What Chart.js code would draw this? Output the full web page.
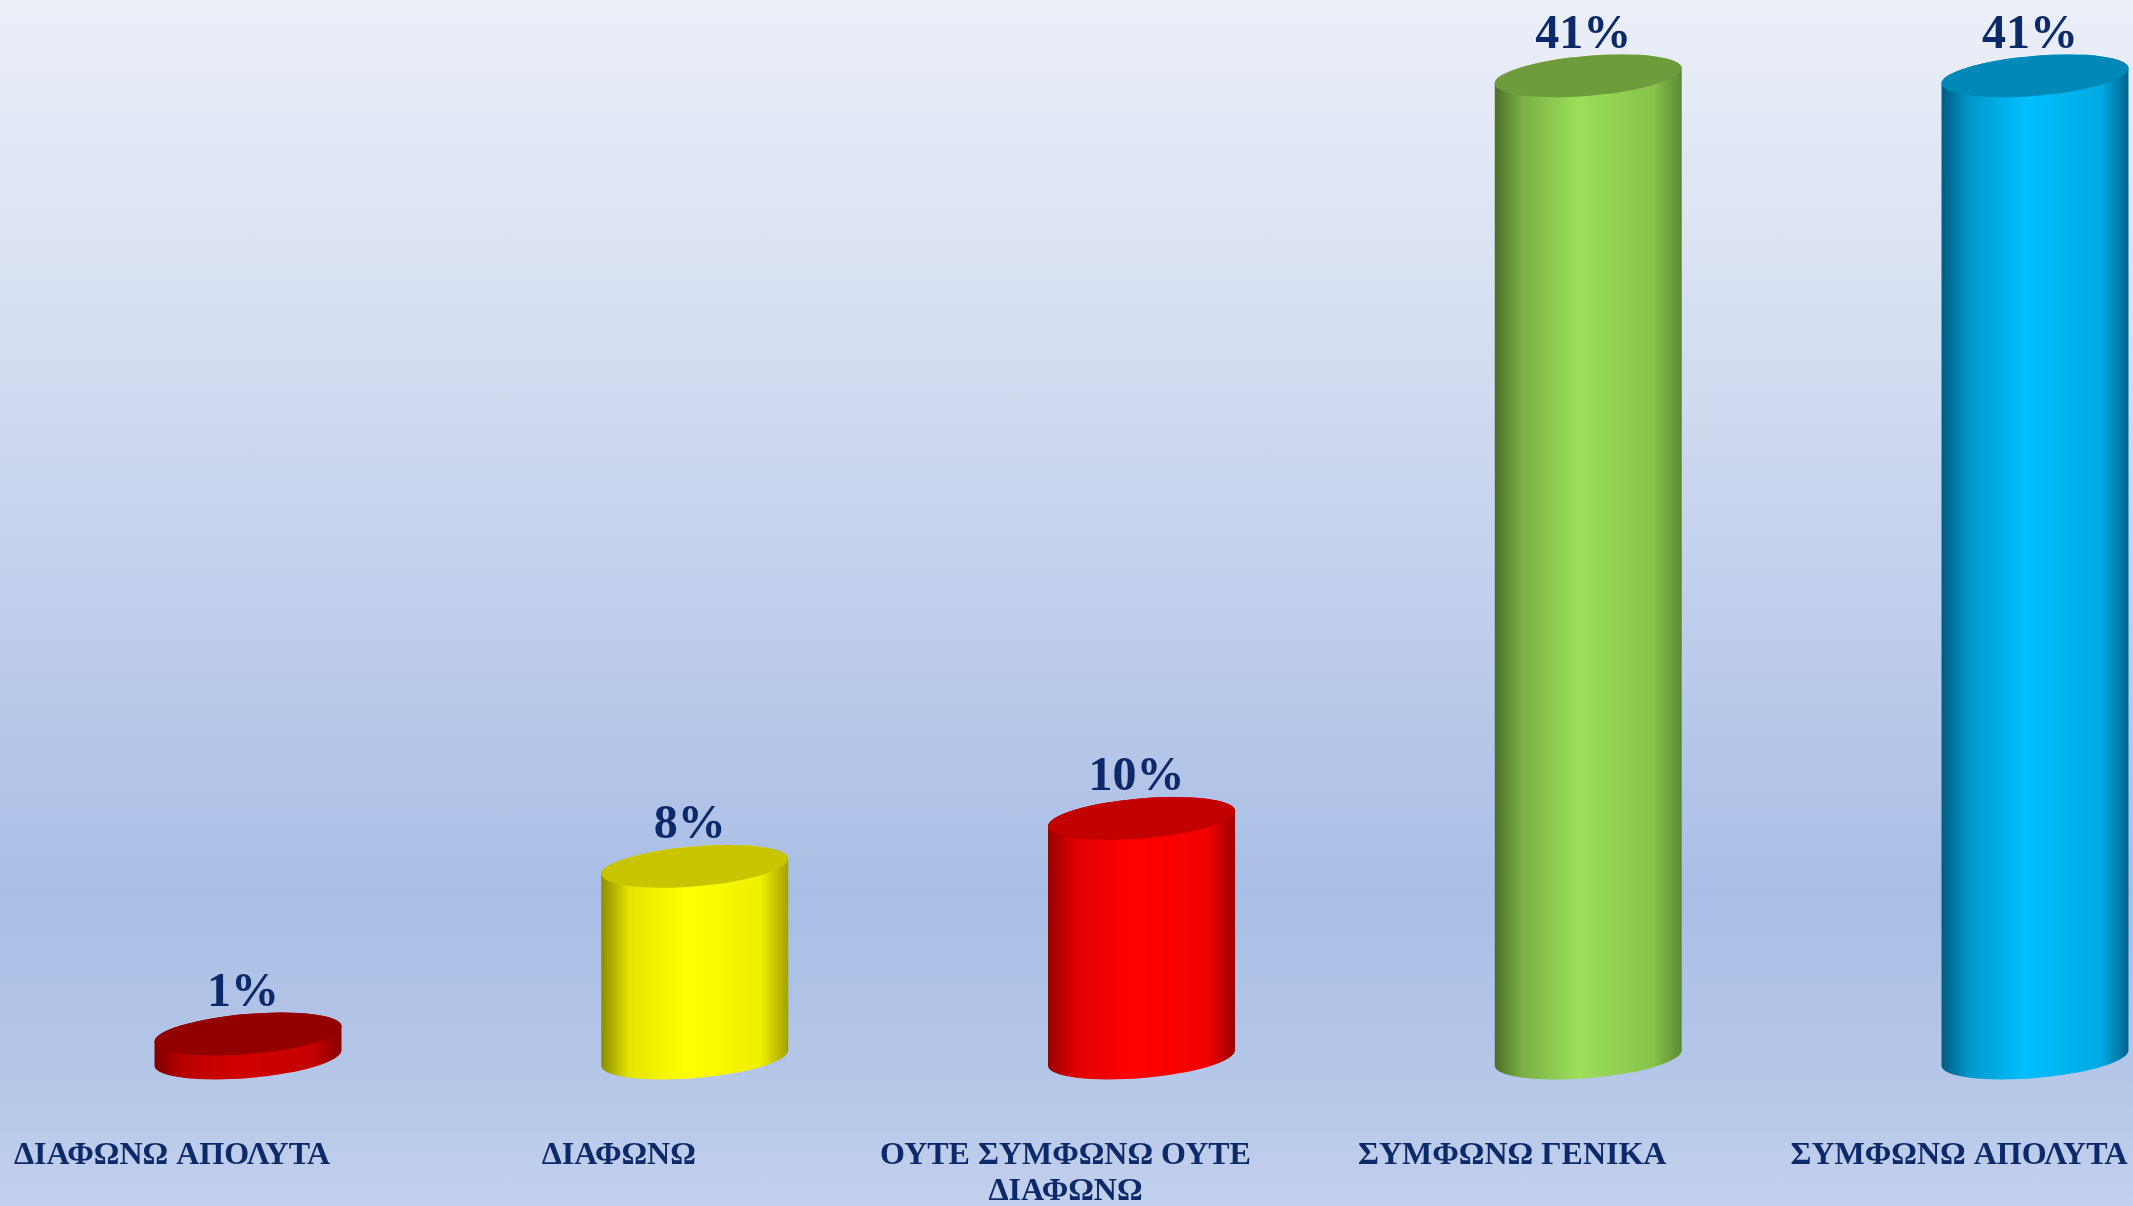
<!DOCTYPE html>
<html>
<head>
<meta charset="utf-8">
<script src="https://cdn.jsdelivr.net/npm/chart.js@4"></script>
<style>
  html, body { margin: 0; padding: 0; }
  body {
    width: 2133px; height: 1206px; overflow: hidden;
    background: linear-gradient(to bottom, #ebeff8 0%, #d3ddf1 30%, #bccbeb 55%, #a9bee5 74%, #b4c6e8 88%, #c1d0ec 100%);
  }
  #chart { display: block; }
</style>
</head>
<body>
<canvas id="chart" width="2133" height="1206"></canvas>
<script>
// Chart data
const categories = [
  'ΔΙΑΦΩΝΩ ΑΠΟΛΥΤΑ',
  'ΔΙΑΦΩΝΩ',
  ['ΟΥΤΕ ΣΥΜΦΩΝΩ ΟΥΤΕ', 'ΔΙΑΦΩΝΩ'],
  'ΣΥΜΦΩΝΩ ΓΕΝΙΚΑ',
  'ΣΥΜΦΩΝΩ ΑΠΟΛΥΤΑ'
];
const percentages = [1, 8, 10, 41, 41];

// Cylinder colours: [left edge, lit part, highlight, right side, right edge], top face
const bodyColors = [
  ['#7e0000', '#b80000', '#d20000', '#c40000', '#860000'],
  ['#8a8a00', '#e4e400', '#ffff00', '#f0f000', '#a0a000'],
  ['#960000', '#e00000', '#ff0000', '#f20000', '#9c0000'],
  ['#4a6e28', '#7bb045', '#9cdf5a', '#88c24b', '#5a8731'],
  ['#005a80', '#0099cc', '#00bfff', '#00aae2', '#00638c']
];
const topColors = ['#930000', '#c8c400', '#c20000', '#6e9c3c', '#0088b8'];

const TEXT_COLOR = '#0c2a6a';
const DEPTH_SHIFT = 76;   // 3D shift of the cylinders to the right of their category
const TILT = -0.085;      // rotation of the ellipses
const ELLIPSE_RY = 20;

function drawCylinder(ctx, cx, yTop, yBase, width, body, top) {
  const rx = width / 2;
  const dx = rx * Math.cos(TILT);
  const dy = rx * Math.sin(TILT);

  const grad = ctx.createLinearGradient(cx - rx, 0, cx + rx, 0);
  grad.addColorStop(0, body[0]);
  grad.addColorStop(0.15, body[1]);
  grad.addColorStop(0.45, body[2]);
  grad.addColorStop(0.85, body[3]);
  grad.addColorStop(1, body[4]);

  ctx.save();
  ctx.beginPath();
  ctx.ellipse(cx, yBase, rx, ELLIPSE_RY, TILT, 0, Math.PI, false);
  ctx.lineTo(cx - dx, yTop - dy);
  ctx.ellipse(cx, yTop, rx, ELLIPSE_RY, TILT, Math.PI, 2 * Math.PI, false);
  ctx.closePath();
  ctx.fillStyle = grad;
  ctx.fill();

  ctx.beginPath();
  ctx.ellipse(cx, yTop, rx, ELLIPSE_RY, TILT, 0, 2 * Math.PI);
  ctx.fillStyle = top;
  ctx.fill();
  ctx.restore();
}

const cylinderPlugin = {
  id: 'cylinders',
  afterDatasetsDraw(chart) {
    const ctx = chart.ctx;
    const meta = chart.getDatasetMeta(0);
    meta.data.forEach((bar, i) => {
      const cx = bar.x + DEPTH_SHIFT;
      drawCylinder(ctx, cx, bar.y, bar.base, bar.width, bodyColors[i], topColors[i]);
      ctx.save();
      ctx.fillStyle = TEXT_COLOR;
      ctx.font = 'bold 48px "Liberation Serif", "Times New Roman", serif';
      ctx.textAlign = 'center';
      ctx.textBaseline = 'alphabetic';
      ctx.fillText(percentages[i] + '%', cx - 5, bar.y - 28);
      ctx.restore();
    });
  }
};

new Chart(document.getElementById('chart'), {
  type: 'bar',
  data: {
    labels: categories,
    datasets: [{
      data: percentages,
      backgroundColor: 'rgba(0,0,0,0)',
      borderWidth: 0,
      barPercentage: 0.42,
      categoryPercentage: 1,
      clip: false
    }]
  },
  options: {
    responsive: false,
    animation: false,
    layout: { padding: { left: 172, right: 174, top: 4, bottom: 0 } },
    plugins: {
      legend: { display: false },
      tooltip: { enabled: false }
    },
    scales: {
      x: {
        offset: false,
        grid: { display: false, drawTicks: false },
        border: { display: false },
        ticks: {
          autoSkip: false,
          maxRotation: 0,
          padding: 79,
          color: TEXT_COLOR,
          font: { family: '"Liberation Serif", "Times New Roman", serif', size: 32, weight: 'bold', lineHeight: 1.15 }
        },
        afterFit(scale) {
          // keep the plot area where the picture has it
          scale.height = 148;
          scale.paddingLeft = 0;
          scale.paddingRight = 0;
          scale.paddingTop = 0;
          scale.paddingBottom = 0;
        }
      },
      y: {
        display: false,
        min: 0,
        max: 44
      }
    }
  },
  plugins: [cylinderPlugin]
});
</script>
</body>
</html>
